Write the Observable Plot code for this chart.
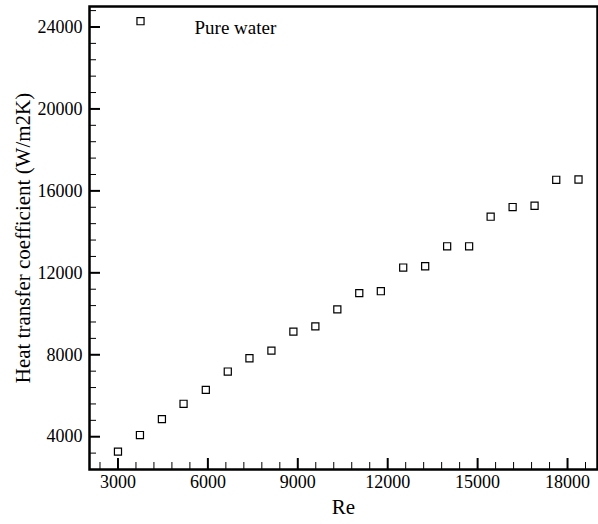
<!DOCTYPE html>
<html>
<head>
<meta charset="utf-8">
<script src="https://cdn.jsdelivr.net/npm/d3@7"></script>
<script src="https://cdn.jsdelivr.net/npm/@observablehq/plot@0.6"></script>
<style>
  html, body { margin: 0; padding: 0; background: #fff; }
  #chart svg { display: block; }
</style>
</head>
<body>
<div id="chart"></div>
<script>
const seriesName = "Pure water";
const re = [3000, 3733, 4466, 5188, 5931, 6664, 7387, 8120, 8853, 9586, 10319,
            11051, 11771, 12517, 13250, 13983, 14716, 15435, 16168, 16900, 17623, 18366];
const htc = [3270, 4083, 4861, 5606, 6287, 7182, 7830, 8204, 9129, 9387, 10214,
             11007, 11104, 12258, 12321, 13294, 13294, 14739, 15211, 15275, 16540, 16555];
const xMajorTicks = [3000, 6000, 9000, 12000, 15000, 18000];
const xMinorTicks = [2400, 3600, 4200, 4800, 5400, 6600, 7200, 7800, 8400, 9600, 10200, 10800, 11400,
                     12600, 13200, 13800, 14400, 15600, 16200, 16800, 17400, 18600];
const yMajorTicks = [4000, 8000, 12000, 16000, 20000, 24000];
const yMinorTicks = [3200, 4800, 5600, 6400, 7200, 8800, 9600, 10400, 11200, 12800, 13600, 14400, 15200,
                     16800, 17600, 18400, 19200, 20800, 21600, 22400, 23200, 24800];
const xTitle = "Re";
const yTitle = "Heat transfer coefficient (W/m2K)";

const data = re.map((r, i) => ({re: r, h: htc[i]}));

const chart = Plot.plot({
  width: 598,
  height: 524,
  marginLeft: 89,
  marginRight: 1,
  marginTop: 6,
  marginBottom: 55,
  style: {fontFamily: "'Liberation Serif', 'Times New Roman', serif", fontSize: "18px", color: "#000", background: "#fff"},
  x: {domain: [2050, 19000], axis: null},
  y: {domain: [2400, 25000], axis: null},
  marks: [
    Plot.axisX({ticks: xMinorTicks, tickSize: -7, strokeWidth: 1, fill: "none", label: null}),
    Plot.axisY({ticks: yMinorTicks, tickSize: -7, strokeWidth: 1, fill: "none", label: null}),
    Plot.axisX({ticks: xMajorTicks, tickSize: -11, tickPadding: 17, strokeWidth: 2, tickFormat: d => String(d), label: null, fontSize: 18}),
    Plot.axisY({ticks: yMajorTicks, tickSize: -11, tickPadding: 18, strokeWidth: 2, tickFormat: d => String(d), label: null, fontSize: 18}),
    Plot.frame({stroke: "#000", strokeWidth: 2.5}),
    Plot.dot(data, {x: "re", y: "h", symbol: "square", r: 4, stroke: "#000", fill: "#fff", strokeWidth: 1.2}),
    Plot.dot([seriesName], {frameAnchor: "top-left", dx: 51, dy: 14.7, symbol: "square", r: 4, stroke: "#000", fill: "#fff", strokeWidth: 1.2}),
    Plot.text([seriesName], {frameAnchor: "top-left", dx: 105, dy: 14.4, text: d => d, textAnchor: "start", fontSize: 19, fill: "#000"}),
    Plot.text([xTitle], {frameAnchor: "bottom", dy: 44, text: d => d, fontSize: 21, fill: "#000"}),
    Plot.text([yTitle], {frameAnchor: "left", dx: -66, rotate: -90, textAnchor: "middle", text: d => d, fontSize: 21, fill: "#000"})
  ]
});
document.getElementById("chart").appendChild(chart);
</script>
</body>
</html>
